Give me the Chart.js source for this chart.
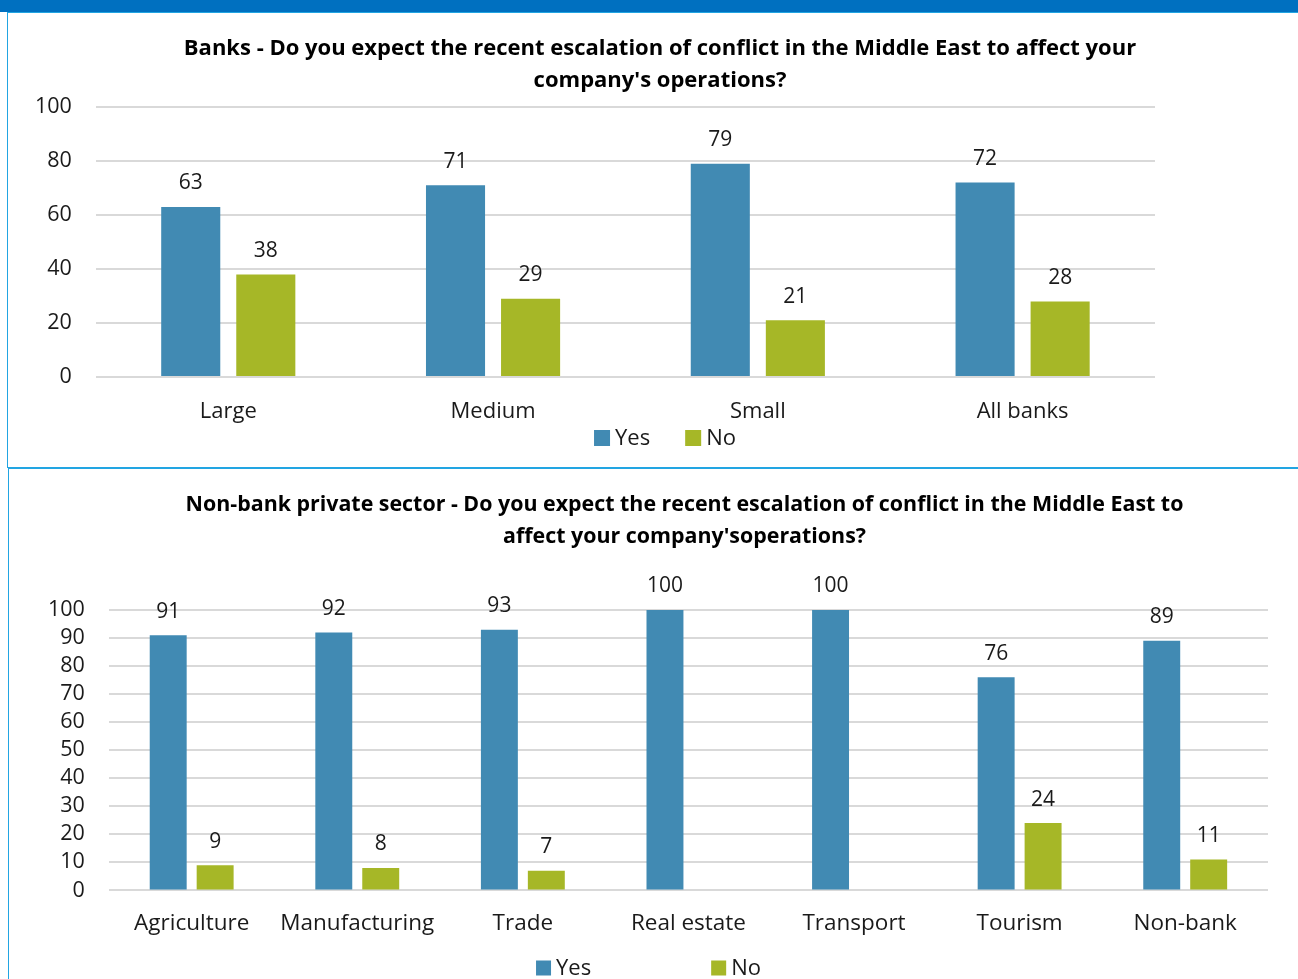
<!DOCTYPE html>
<html>
<head>
<meta charset="utf-8">
<script src="https://cdn.jsdelivr.net/npm/chart.js@4.4.0/dist/chart.umd.min.js"></script>
<style>
  body { margin: 0; width: 1298px; height: 979px; overflow: hidden; background: #fff; }
  #topbar { position: absolute; left: 0; top: 0; width: 1298px; height: 12px; background: #0070C0; }
  #panel1 { position: absolute; left: 7px; top: 12px; width: 1310px; height: 454px; border: 1px solid #22A5E2; }
  #panel2 { position: absolute; left: 8px; top: 467px; width: 1310px; height: 540px; border: 1px solid #22A5E2; border-top-width: 2px; }
  #banksChart { position: absolute; left: 8px; top: 13px; }
  #sectorChart { position: absolute; left: 9px; top: 469px; }
</style>
</head>
<body>
<div id="topbar"></div>
<div id="panel1"></div>
<div id="panel2"></div>
<canvas id="banksChart" width="1290" height="453"></canvas>
<canvas id="sectorChart" width="1289" height="520"></canvas>
<script>
// data
const banksCategories = ['Large', 'Medium', 'Small', 'All banks'];
const banksYes = [63, 71, 79, 72];
const banksNo = [38, 29, 21, 28];
const banksTicks = [0, 20, 40, 60, 80, 100];

const sectorCategories = ['Agriculture', 'Manufacturing', 'Trade', 'Real estate', 'Transport', 'Tourism', 'Non-bank'];
const sectorYes = [91, 92, 93, 100, 100, 76, 89];
const sectorNo = [9, 8, 7, null, null, 24, 11];
const sectorTicks = [0, 10, 20, 30, 40, 50, 60, 70, 80, 90, 100];

const banksTitle = ['Banks - Do you expect the recent escalation of conflict in the Middle East to affect your',
                    "company's operations?"];
const sectorTitle = ['Non-bank private sector - Do you expect the recent escalation of conflict in the Middle East to',
                     "affect your company'soperations?"];

const yesColor = '#418AB3';
const noColor = '#A6B727';
const textColor = '#1a1a1a';

Chart.defaults.font.family = '"Open Sans", sans-serif';
Chart.defaults.color = textColor;

// numbers above the bars
const valueLabels = {
    id: 'valueLabels',
    afterDatasetsDraw(chart, args, opts) {
        const ctx = chart.ctx;
        ctx.save();
        ctx.font = opts.font;
        ctx.fillStyle = textColor;
        ctx.textAlign = 'center';
        ctx.textBaseline = 'middle';
        chart.data.datasets.forEach((ds, i) => {
            chart.getDatasetMeta(i).data.forEach((el, j) => {
                const v = ds.data[j];
                if (v == null) return;
                ctx.fillText(String(v), el.x, el.y - opts.offset);
            });
        });
        ctx.restore();
    }
};

// two-line bold heading
const headline = {
    id: 'headline',
    afterDraw(chart, args, opts) {
        const ctx = chart.ctx;
        ctx.save();
        ctx.font = opts.font;
        ctx.fillStyle = '#000';
        ctx.textAlign = 'center';
        ctx.textBaseline = 'middle';
        opts.lines.forEach((line, k) => {
            ctx.fillText(line, chart.width / 2 + opts.dx, opts.y + k * opts.lineHeight);
        });
        ctx.restore();
    }
};

// legend row near the bottom of the canvas
const keyRow = {
    id: 'keyRow',
    afterDraw(chart, args, opts) {
        const ctx = chart.ctx;
        ctx.save();
        ctx.font = opts.font;
        ctx.textBaseline = 'middle';
        ctx.textAlign = 'left';
        const items = chart.data.datasets.map(ds => ({
            text: ds.label, color: ds.backgroundColor, w: ctx.measureText(ds.label).width
        }));
        let total = 0;
        items.forEach((it, i) => {
            total += opts.box + opts.textGap + it.w + (i > 0 ? opts.gap : 0);
        });
        let x = chart.width / 2 + opts.dx - total / 2;
        const y = chart.height - opts.fromBottom;
        items.forEach(it => {
            ctx.fillStyle = it.color;
            ctx.fillRect(x, y - opts.box / 2, opts.box, opts.box);
            ctx.fillStyle = textColor;
            ctx.fillText(it.text, x + opts.box + opts.textGap, y + 1);
            x += opts.box + opts.textGap + it.w + opts.gap;
        });
        ctx.restore();
    }
};

function makeChart(id, cats, yes, no, ticks, title, cfg) {
    const ctx = document.getElementById(id).getContext('2d');
    return new Chart(ctx, {
        type: 'bar',
        data: {
            labels: cats,
            datasets: [
                { label: 'Yes', data: yes, backgroundColor: yesColor,
                  categoryPercentage: 0.567, barPercentage: 0.787 },
                { label: 'No', data: no, backgroundColor: noColor,
                  categoryPercentage: 0.567, barPercentage: 0.787 }
            ]
        },
        options: {
            responsive: false,
            animation: false,
            layout: { padding: cfg.padding },
            plugins: {
                legend: { display: false },
                title: { display: false },
                tooltip: { enabled: false },
                valueLabels: { font: '21px "Open Sans", sans-serif', offset: 23.5 },
                headline: { lines: title, font: 'bold ' + cfg.titleSize + 'px "Open Sans", sans-serif',
                            y: 36, lineHeight: 32, dx: cfg.titleDx },
                keyRow: cfg.key
            },
            scales: {
                x: {
                    grid: { display: false, drawTicks: false },
                    border: { display: false },
                    ticks: { font: { size: cfg.xSize }, padding: cfg.xPad, color: textColor }
                },
                y: {
                    min: ticks[0],
                    max: ticks[ticks.length - 1],
                    grid: { color: '#D9D9D9', lineWidth: 2, drawTicks: false },
                    border: { display: false },
                    ticks: { font: { size: 21.5 }, padding: 24, color: textColor,
                             stepSize: ticks[1] - ticks[0], autoSkip: false }
                }
            }
        },
        plugins: [valueLabels, headline, keyRow]
    });
}

makeChart('banksChart', banksCategories, banksYes, banksNo, banksTicks, banksTitle, {
    padding: { top: 94, left: 3, right: 143, bottom: 18.6 },
    titleSize: 22,
    titleDx: 7,
    xSize: 22,
    xPad: 22,
    key: { font: '22px "Open Sans", sans-serif', box: 16, textGap: 5, gap: 35, fromBottom: 28, dx: 12 }
});

makeChart('sectorChart', sectorCategories, sectorYes, sectorNo, sectorTicks, sectorTitle, {
    padding: { top: 141, left: 15, right: 30, bottom: 31.6 },
    titleSize: 21.4,
    titleDx: 31,
    xSize: 22.5,
    xPad: 20,
    key: { font: '22px "Open Sans", sans-serif', box: 15, textGap: 5, gap: 120, fromBottom: 21, dx: -5 }
});
</script>
</body>
</html>
